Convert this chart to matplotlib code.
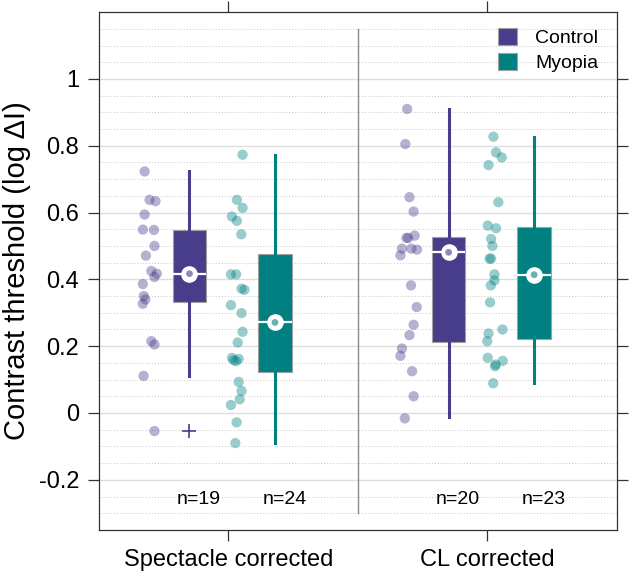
import matplotlib
matplotlib.use("Agg")
import matplotlib.pyplot as plt
from matplotlib.patches import Patch
import numpy as np

plt.rcParams['font.family'] = ['Liberation Sans', 'DejaVu Sans']

groups = ["Spectacle corrected", "CL corrected"]
series = ["Control", "Myopia"]
colors = {"Control": "#483D8B", "Myopia": "#008080"}

# individual thresholds (log dI) and horizontal jitter
ctrl_spec = [0.723, 0.638, 0.634, 0.594, 0.549, 0.548, 0.50, 0.471, 0.425, 0.417,
             0.407, 0.386, 0.350, 0.340, 0.327, 0.215, 0.205, 0.111, -0.054]
ctrl_spec_jit = [-0.323, -0.304, -0.281, -0.323, -0.33, -0.287, -0.285, -0.318, -0.297, -0.276,
                 -0.285, -0.33, -0.326, -0.32, -0.33, -0.297, -0.285, -0.327, -0.285]
myo_spec = [0.773, 0.638, 0.614, 0.588, 0.575, 0.535, 0.415, 0.415, 0.372, 0.369,
            0.323, 0.299, 0.243, 0.211, 0.165, 0.158, 0.162, 0.155, 0.093, 0.066,
            0.041, 0.024, -0.028, -0.09]
myo_spec_jit = [0.055, 0.033, 0.055, 0.014, 0.033, 0.05, 0.010, 0.030, 0.051, 0.062,
                0.010, 0.051, 0.055, 0.036, 0.014, 0.021, 0.040, 0.030, 0.040, 0.051,
                0.044, 0.010, 0.032, 0.027]
ctrl_cl = [0.91, 0.805, 0.646, 0.603, 0.531, 0.524, 0.524, 0.492, 0.492, 0.489,
           0.472, 0.382, 0.317, 0.264, 0.233, 0.193, 0.171, 0.125, 0.05, -0.016]
ctrl_cl_jit = [-0.31, -0.317, -0.301, -0.285, -0.281, -0.313, -0.306, -0.33, -0.294, -0.272,
               -0.336, -0.295, -0.273, -0.285, -0.301, -0.33, -0.336, -0.291, -0.285, -0.319]
myo_cl = [0.827, 0.78, 0.765, 0.742, 0.631, 0.561, 0.553, 0.521, 0.50, 0.462,
          0.462, 0.415, 0.397, 0.382, 0.331, 0.25, 0.238, 0.215, 0.165, 0.156,
          0.14, 0.145, 0.089]
myo_cl_jit = [0.023, 0.033, 0.055, 0.004, 0.042, 0.001, 0.033, 0.014, 0.019, 0.008,
              0.014, 0.027, 0.027, 0.013, 0.01, 0.058, 0.004, -0.001, 0.001, 0.059,
              0.029, 0.032, 0.022]

# box summaries: Control spec, Myopia spec, Control CL, Myopia CL
box_q1 = [0.332, 0.124, 0.213, 0.220]
box_med = [0.417, 0.271, 0.481, 0.414]
box_q3 = [0.548, 0.475, 0.526, 0.556]
box_lo = [0.111, -0.090, -0.013, 0.090]
box_hi = [0.723, 0.772, 0.910, 0.825]
box_fliers = [[-0.054], [], [], []]
n_labels = ["n=19", "n=24", "n=20", "n=23"]

fig = plt.figure(figsize=(6.29, 5.76), dpi=100)
ax = fig.add_axes([0.157, 0.08, 0.824, 0.899])

ax.set_xlim(0.5, 2.5)
ax.set_ylim(-0.35, 1.2)

# grid
for y in np.arange(-0.30, 1.151, 0.05):
    if abs(round(y / 0.2) * 0.2 - y) < 1e-6:
        ax.axhline(y, color="#dedede", lw=1.0, zorder=0)
    else:
        ax.axhline(y, color="#c8c8c8", lw=0.7, ls=(0, (1, 2)), zorder=0)
ax.plot([1.5, 1.5], [-0.30, 1.15], color="#8a8a8a", lw=1.0, zorder=1)

points = [(ctrl_spec, ctrl_spec_jit, 1, "Control"), (myo_spec, myo_spec_jit, 1, "Myopia"),
          (ctrl_cl, ctrl_cl_jit, 2, "Control"), (myo_cl, myo_cl_jit, 2, "Myopia")]
for vals, jit, g, s in points:
    ax.scatter(g + np.array(jit), vals, s=55, color=colors[s], alpha=0.4,
               edgecolors="none", zorder=2)

box_pos = [0.85, 1.18, 1.85, 2.18]
box_series = ["Control", "Myopia", "Control", "Myopia"]
for i in range(4):
    c = colors[box_series[i]]
    st = [dict(q1=box_q1[i], med=box_med[i], q3=box_q3[i], whislo=box_lo[i],
               whishi=box_hi[i], fliers=box_fliers[i])]
    ax.bxp(st, positions=[box_pos[i]], widths=0.13, patch_artist=True,
           showcaps=False, manage_ticks=False,
           boxprops=dict(facecolor=c, edgecolor="#a0a0a0", lw=0.8),
           whiskerprops=dict(color=c, lw=2.2),
           medianprops=dict(color="white", lw=1.6),
           flierprops=dict(marker="+", markeredgecolor=c, markersize=10, mew=1.2))
    ax.scatter([box_pos[i]], [box_med[i]], s=120, color="white", zorder=4)
    ax.scatter([box_pos[i]], [box_med[i]], s=24, color=c, alpha=0.6,
               edgecolors="none", zorder=5)
    ax.text(box_pos[i] + 0.037, -0.258, n_labels[i], ha="center", va="center",
            fontsize=14)

ax.set_xticks([1, 2])
ax.set_xticklabels(groups, fontsize=17)
ax.set_yticks([-0.2, 0, 0.2, 0.4, 0.6, 0.8, 1.0])
ax.set_yticklabels(["-0.2", "0", "0.2", "0.4", "0.6", "0.8", "1"], fontsize=17)
ax.tick_params(direction="out", length=8, width=0.9, top=True, right=True,
               color="#333333", pad=6)
ax.tick_params(axis="x", pad=5.5)
for sp in ax.spines.values():
    sp.set_color("#333333")
    sp.set_linewidth(0.9)

ax.set_ylabel("Contrast threshold (log \u0394I)", fontsize=21)
ax.yaxis.set_label_coords(-0.131, 0.5)

handles = [Patch(facecolor=colors[s], edgecolor="#a0a0a0", lw=0.8) for s in series]
ax.legend(handles, series, loc="upper left", bbox_to_anchor=(0.770, 0.969),
          frameon=False, fontsize=14, handlelength=0.98, handleheight=0.98,
          handletextpad=0.93, labelspacing=0.3, borderpad=0, borderaxespad=0)

fig.savefig("out.png", dpi=100)
